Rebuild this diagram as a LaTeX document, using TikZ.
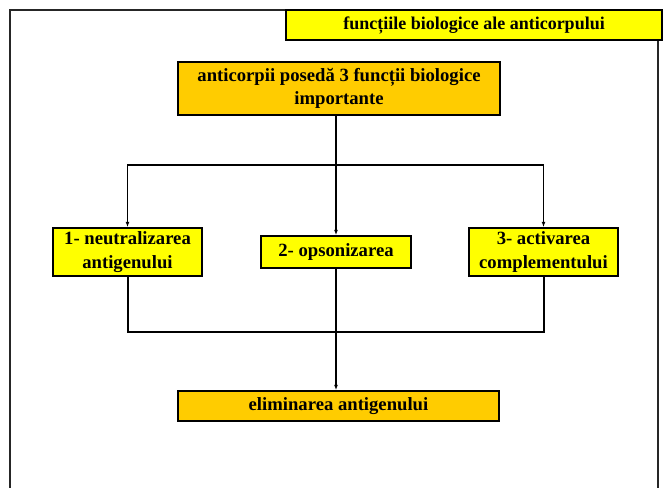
\documentclass[tikz,border=0pt]{standalone}
\usepackage{fontspec}
\setmainfont{Liberation Serif}
\usetikzlibrary{arrows.meta}
\definecolor{galben}{HTML}{FFFF00}
\definecolor{portocaliu}{HTML}{FFCC00}
\begin{document}
\begin{tikzpicture}[x=0.75pt, y=-0.75pt,
    cutie/.style={draw=black, line width=1.3pt, align=center, inner sep=0pt,
      font=\bfseries\fontsize{14}{17.5}\selectfont},
    sageata/.style={-{Latex[length=4pt,width=3pt]}, line width=0.8pt},
    linie/.style={line width=1.5pt}]
  \useasboundingbox (0,0) rectangle (668,488);
  \draw[line width=2.2pt, black!85] (10,495) -- (10,10) -- (658,10) -- (658,495);
  \node[cutie, fill=galben, minimum width=282pt, minimum height=22.5pt,
    font=\bfseries\fontsize{13.5}{16}\selectfont] (titlu) at (474,25) {funcțiile biologice ale anticorpului};
  \node[cutie, fill=portocaliu, minimum width=241.5pt, minimum height=39.75pt] (sus) at (339,88.5)
    {anticorpii posedă 3 funcții biologice\\importante};
  \node[cutie, fill=galben, minimum width=111.75pt, minimum height=36pt] (neutr) at (127.5,252)
    {1- neutralizarea\\antigenului};
  \node[cutie, fill=galben, minimum width=112.5pt, minimum height=24pt] (opson) at (336,252)
    {2- opsonizarea};
  \node[cutie, fill=galben, minimum width=111.75pt, minimum height=36pt] (activ) at (543.5,252)
    {3- activarea\\complementului};
  \node[cutie, fill=portocaliu, minimum width=240.75pt, minimum height=22.5pt] (elim) at (338.5,406)
    {eliminarea antigenului};
  % ramificare spre cele 3 functii
  \coordinate (ramura) at (336,165);
  \coordinate (jos) at (336,332);
  \draw[line width=0.8pt] (sus.south -| ramura) -- (ramura);
  \draw[sageata] (ramura) -- (ramura -| neutr) -- (neutr.north);
  \draw[sageata] (ramura) -- (opson.north);
  \draw[sageata] (ramura) -- (ramura -| activ) -- (activ.north);
  % reunire spre eliminare
  \draw[linie] (neutr.south) |- (jos -| activ) -- (activ.south);
  \draw[sageata] (opson.south) -- (opson.south |- elim.north);
\end{tikzpicture}
\end{document}
